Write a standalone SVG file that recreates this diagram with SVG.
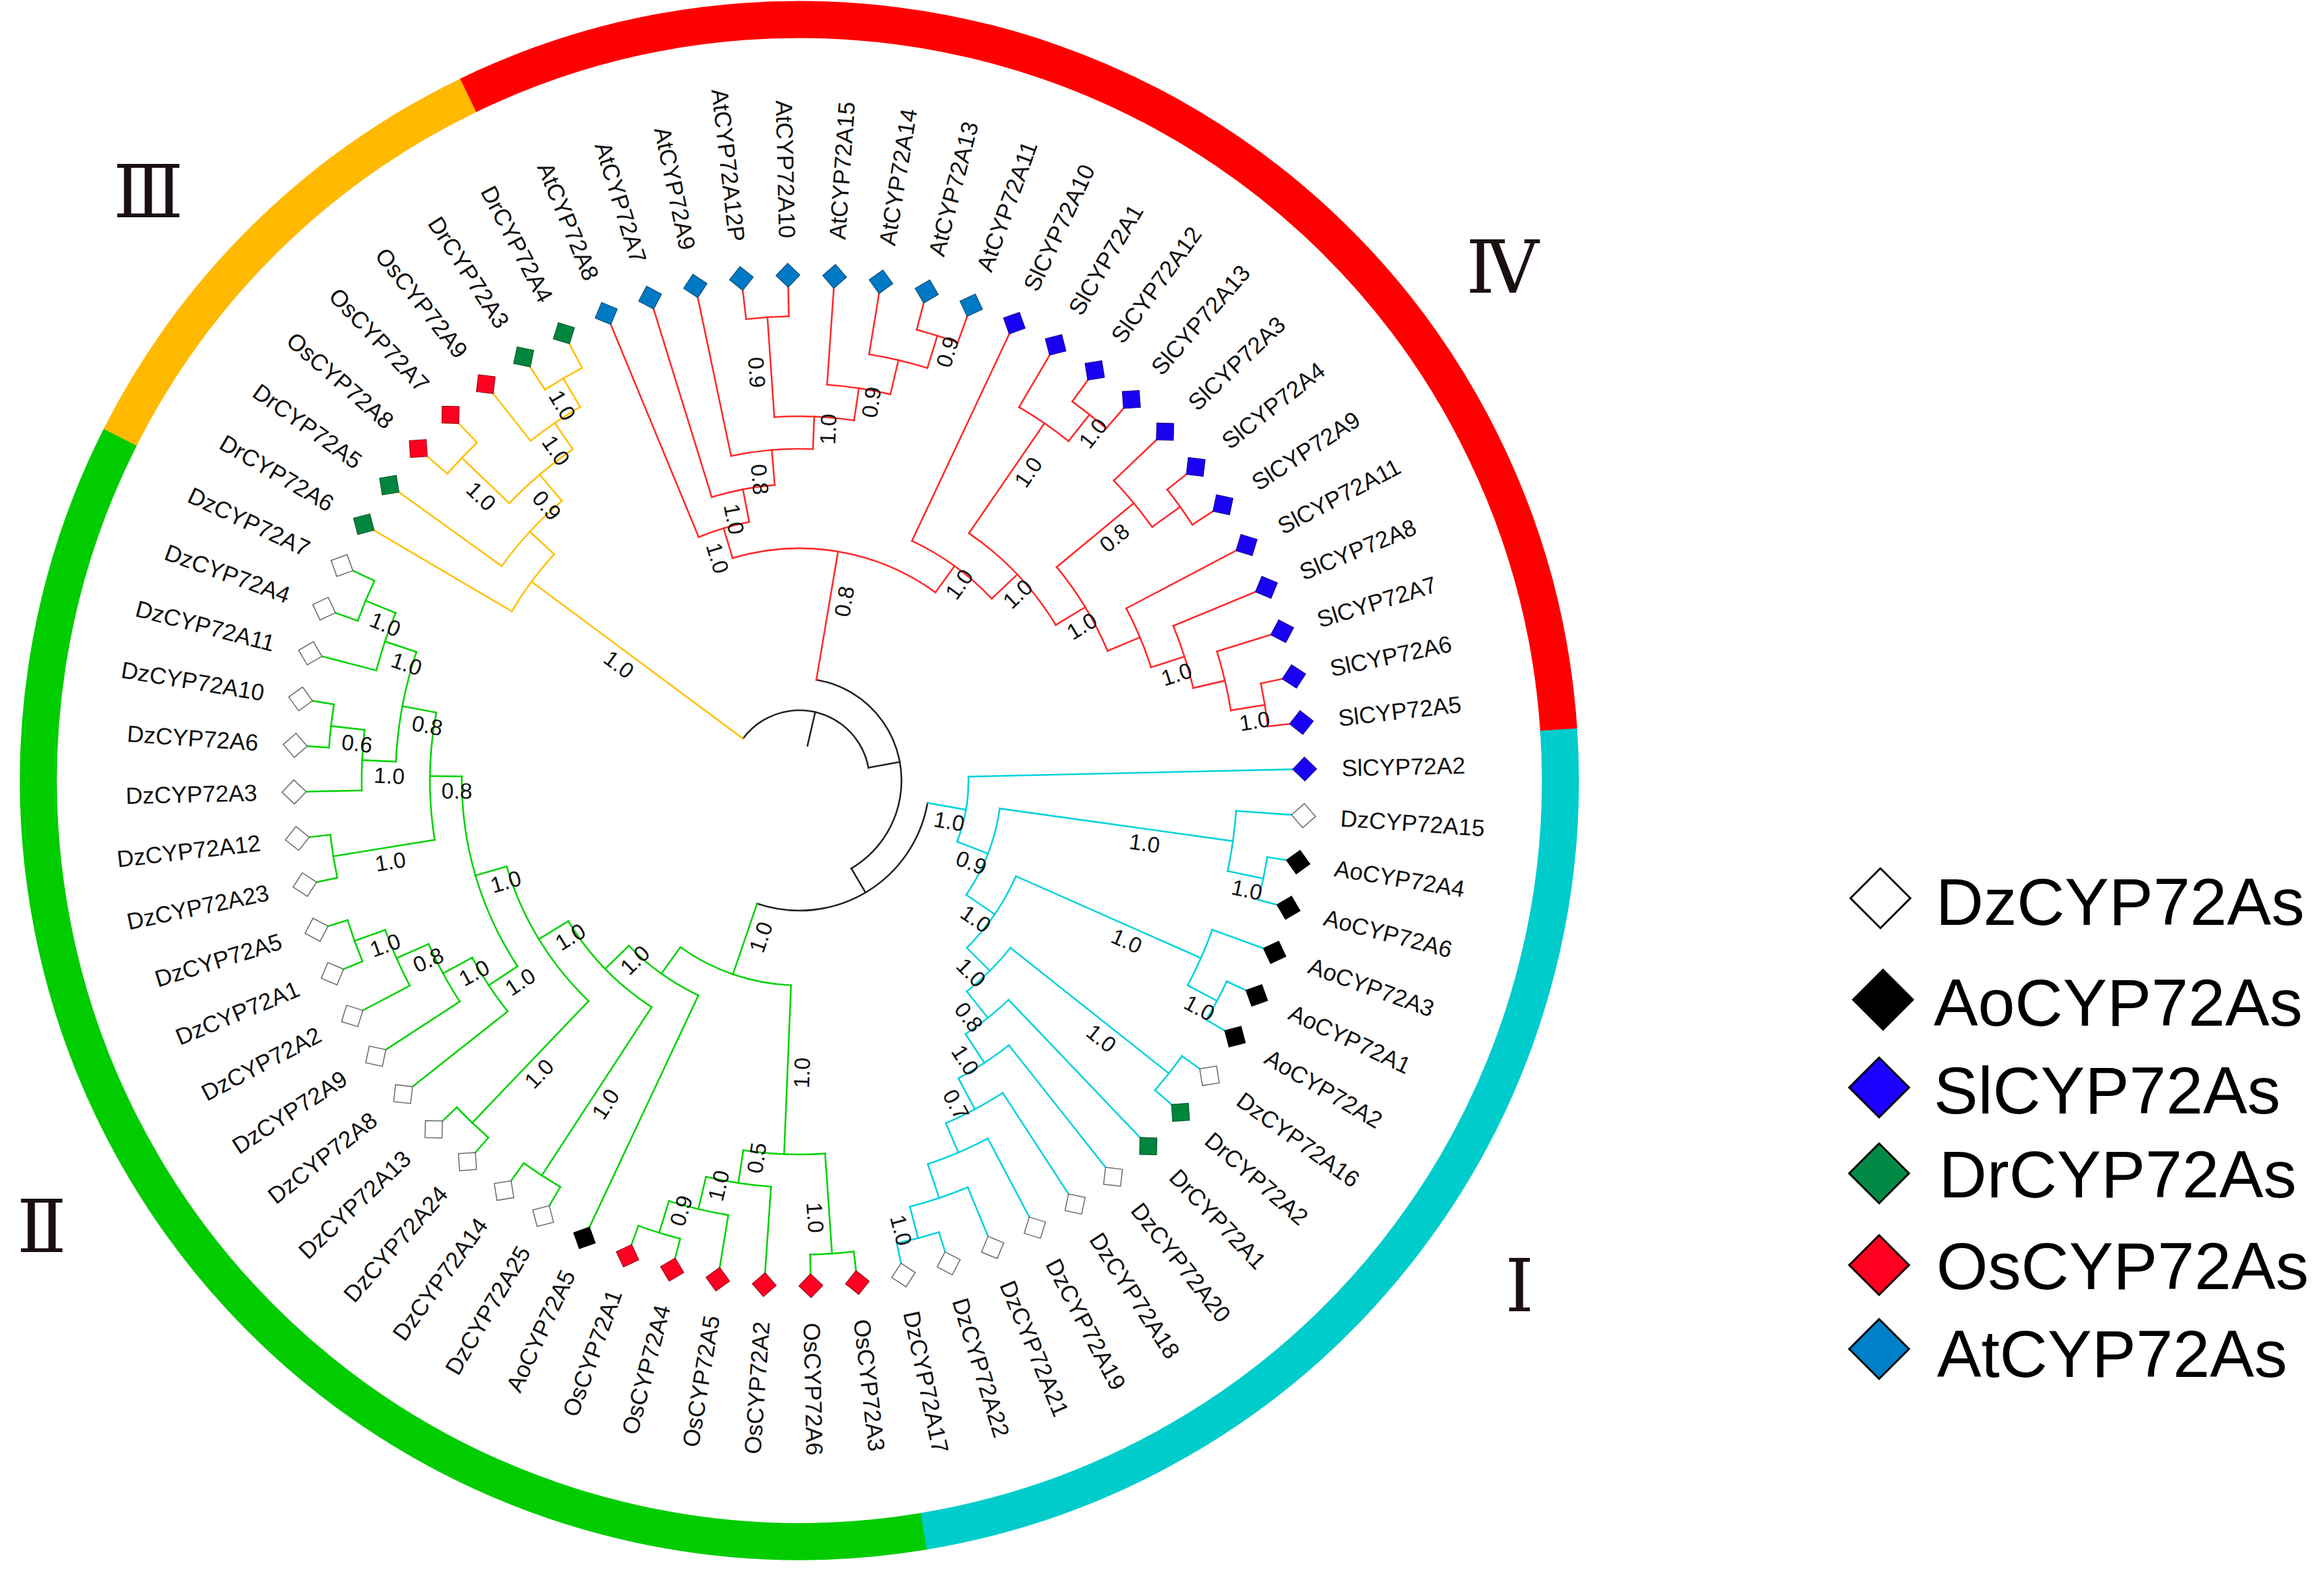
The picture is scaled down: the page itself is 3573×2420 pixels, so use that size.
<svg xmlns="http://www.w3.org/2000/svg" width="3573" height="2420" viewBox="0 0 3573 2420">
<style>
.lf{font-family:"Liberation Sans",Arial,sans-serif;font-size:36px;fill:#111;dominant-baseline:central}
.L{text-anchor:start}
.R{text-anchor:end}
.bs text{font-family:"Liberation Sans",Arial,sans-serif;font-size:34px;fill:#111;text-anchor:middle}
.tree line,.tree circle{fill:none;stroke-width:2.6;stroke-linecap:square}
.k{stroke:#222}
.c{stroke:#00d2dc}
.g{stroke:#00d200}
.o{stroke:#ffc000}
.r{stroke:#ff2a2a}
.dz{fill:#fff;stroke:#666;stroke-width:1.5}
.ao{fill:#000;stroke:#000;stroke-width:1}
.sl{fill:#1a00f0;stroke:#10008a;stroke-width:1}
.dr{fill:#00853e;stroke:#004d24;stroke-width:1}
.os{fill:#ff0022;stroke:#8a0012;stroke-width:1}
.at{fill:#0079c4;stroke:#003f66;stroke-width:1}
.leg text{font-family:"Liberation Sans",Arial,sans-serif;font-size:102px;fill:#000}
.leg path{stroke:#000;stroke-width:3}
.num{font-family:"Liberation Serif","DejaVu Serif",serif;font-size:112px;fill:#1a1010;text-anchor:middle;dominant-baseline:central}
</style>
<defs>
<path id="dm" d="M758.5,0L777,-18.5L795.5,0L777,18.5Z"/>
</defs>
<rect width="3573" height="2420" fill="#fff"/>
<g id="ring" fill="none" stroke-width="57" transform="translate(1229,1200)">
<circle r="1170" stroke="#00cccc" stroke-dasharray="1727 8000" transform="rotate(-3.9)"/>
<circle r="1170" stroke="#00cc00" stroke-dasharray="2578 8000" transform="rotate(80.6)"/>
<circle r="1170" stroke="#ffb900" stroke-dasharray="765 8000" transform="rotate(206.8)"/>
<circle r="1170" stroke="#ff0000" stroke-dasharray="2286 8000" transform="rotate(244.2)"/>
</g>
<g transform="translate(1229,1200)">
<g id="connectors" class="tree">
<g class="k">
<circle r="108" stroke-dasharray="250.55 9999" transform="rotate(216.59)"/>
<circle r="157" stroke-dasharray="383.24 9999" transform="rotate(279.58)"/>
<circle r="200" stroke-dasharray="345.54 9999" transform="rotate(9.945)"/>
<line x1="55" x2="108" transform="rotate(283.05)"/>
<line x1="108" x2="157" transform="rotate(349.51)"/>
<line x1="157" x2="200" transform="rotate(59.44)"/>
</g>
<g class="c">
<circle r="260" stroke-dasharray="102.06 9999" transform="rotate(-1.3)"/>
<circle r="311" stroke-dasharray="143.60 9999" transform="rotate(7.96)"/>
<circle r="673" stroke-dasharray="93.32 9999" transform="rotate(3.99)"/>
<circle r="729" stroke-dasharray="67.31 9999" transform="rotate(9.29)"/>
<circle r="364" stroke-dasharray="134.24 9999" transform="rotate(23.85)"/>
<circle r="675" stroke-dasharray="93.48 9999" transform="rotate(19.88)"/>
<circle r="726" stroke-dasharray="67.03 9999" transform="rotate(25.17)"/>
<circle r="414" stroke-dasharray="95.05 9999" transform="rotate(38.405)"/>
<circle r="725" stroke-dasharray="66.94 9999" transform="rotate(35.76)"/>
<circle r="466" stroke-dasharray="84.75 9999" transform="rotate(46.35)"/>
<circle r="519" stroke-dasharray="92.94 9999" transform="rotate(51.64)"/>
<circle r="573" stroke-dasharray="99.21 9999" transform="rotate(56.94)"/>
<circle r="622" stroke-dasharray="100.53 9999" transform="rotate(62.23)"/>
<circle r="677" stroke-dasharray="93.88 9999" transform="rotate(67.52)"/>
<circle r="727" stroke-dasharray="67.12 9999" transform="rotate(72.82)"/>
<line x1="200" x2="260" transform="rotate(9.945)"/>
<line x1="260" x2="777" transform="rotate(-1.3)"/>
<line x1="260" x2="311" transform="rotate(21.19)"/>
<line x1="311" x2="673" transform="rotate(7.96)"/>
<line x1="673" x2="777" transform="rotate(3.99)"/>
<line x1="673" x2="729" transform="rotate(11.935)"/>
<line x1="729" x2="777" transform="rotate(9.29)"/>
<line x1="729" x2="777" transform="rotate(14.58)"/>
<line x1="311" x2="364" transform="rotate(34.415)"/>
<line x1="364" x2="675" transform="rotate(23.85)"/>
<line x1="675" x2="777" transform="rotate(19.88)"/>
<line x1="675" x2="726" transform="rotate(27.815)"/>
<line x1="726" x2="777" transform="rotate(25.17)"/>
<line x1="726" x2="777" transform="rotate(30.46)"/>
<line x1="364" x2="414" transform="rotate(44.98)"/>
<line x1="414" x2="725" transform="rotate(38.405)"/>
<line x1="725" x2="777" transform="rotate(35.76)"/>
<line x1="725" x2="777" transform="rotate(41.05)"/>
<line x1="414" x2="466" transform="rotate(51.56)"/>
<line x1="466" x2="777" transform="rotate(46.35)"/>
<line x1="466" x2="519" transform="rotate(56.77)"/>
<line x1="519" x2="777" transform="rotate(51.64)"/>
<line x1="519" x2="573" transform="rotate(61.90)"/>
<line x1="573" x2="777" transform="rotate(56.94)"/>
<line x1="573" x2="622" transform="rotate(66.86)"/>
<line x1="622" x2="777" transform="rotate(62.23)"/>
<line x1="622" x2="677" transform="rotate(71.49)"/>
<line x1="677" x2="777" transform="rotate(67.52)"/>
<line x1="677" x2="727" transform="rotate(75.465)"/>
<line x1="727" x2="777" transform="rotate(72.82)"/>
<line x1="727" x2="777" transform="rotate(78.11)"/>
</g>
<g class="g">
<circle r="315" stroke-dasharray="182.47 9999" transform="rotate(92.34)"/>
<circle r="575" stroke-dasharray="126.15 9999" transform="rotate(86.055)"/>
<circle r="729" stroke-dasharray="67.31 9999" transform="rotate(83.41)"/>
<circle r="626" stroke-dasharray="101.28 9999" transform="rotate(93.99)"/>
<circle r="677" stroke-dasharray="93.82 9999" transform="rotate(99.29)"/>
<circle r="728" stroke-dasharray="67.34 9999" transform="rotate(104.58)"/>
<circle r="365" stroke-dasharray="131.99 9999" transform="rotate(115.17)"/>
<circle r="416" stroke-dasharray="185.58 9999" transform="rotate(123.11)"/>
<circle r="725" stroke-dasharray="67.06 9999" transform="rotate(120.46)"/>
<circle r="469" stroke-dasharray="245.12 9999" transform="rotate(133.70)"/>
<circle r="728" stroke-dasharray="67.34 9999" transform="rotate(131.05)"/>
<circle r="519" stroke-dasharray="308.71 9999" transform="rotate(146.605)"/>
<circle r="572" stroke-dasharray="99.13 9999" transform="rotate(141.64)"/>
<circle r="623" stroke-dasharray="100.69 9999" transform="rotate(146.94)"/>
<circle r="677" stroke-dasharray="93.82 9999" transform="rotate(152.23)"/>
<circle r="727" stroke-dasharray="67.25 9999" transform="rotate(157.52)"/>
<circle r="568" stroke-dasharray="196.78 9999" transform="rotate(170.76)"/>
<circle r="726" stroke-dasharray="67.16 9999" transform="rotate(168.11)"/>
<circle r="621" stroke-dasharray="172.11 9999" transform="rotate(182.67)"/>
<circle r="673" stroke-dasharray="93.26 9999" transform="rotate(178.70)"/>
<circle r="725" stroke-dasharray="67.06 9999" transform="rotate(183.99)"/>
<circle r="672" stroke-dasharray="93.18 9999" transform="rotate(194.58)"/>
<circle r="722" stroke-dasharray="66.66 9999" transform="rotate(199.88)"/>
<line x1="200" x2="315" transform="rotate(108.935)"/>
<line x1="315" x2="575" transform="rotate(92.34)"/>
<line x1="575" x2="729" transform="rotate(86.055)"/>
<line x1="729" x2="777" transform="rotate(83.41)"/>
<line x1="729" x2="777" transform="rotate(88.70)"/>
<line x1="575" x2="626" transform="rotate(98.625)"/>
<line x1="626" x2="777" transform="rotate(93.99)"/>
<line x1="626" x2="677" transform="rotate(103.26)"/>
<line x1="677" x2="777" transform="rotate(99.29)"/>
<line x1="677" x2="728" transform="rotate(107.23)"/>
<line x1="728" x2="777" transform="rotate(104.58)"/>
<line x1="728" x2="777" transform="rotate(109.88)"/>
<line x1="315" x2="365" transform="rotate(125.53)"/>
<line x1="365" x2="777" transform="rotate(115.17)"/>
<line x1="365" x2="416" transform="rotate(135.89)"/>
<line x1="416" x2="725" transform="rotate(123.11)"/>
<line x1="725" x2="777" transform="rotate(120.46)"/>
<line x1="725" x2="777" transform="rotate(125.76)"/>
<line x1="416" x2="469" transform="rotate(148.67)"/>
<line x1="469" x2="728" transform="rotate(133.70)"/>
<line x1="728" x2="777" transform="rotate(131.05)"/>
<line x1="728" x2="777" transform="rotate(136.35)"/>
<line x1="469" x2="519" transform="rotate(163.645)"/>
<line x1="519" x2="572" transform="rotate(146.605)"/>
<line x1="572" x2="777" transform="rotate(141.64)"/>
<line x1="572" x2="623" transform="rotate(151.57)"/>
<line x1="623" x2="777" transform="rotate(146.94)"/>
<line x1="623" x2="677" transform="rotate(156.20)"/>
<line x1="677" x2="777" transform="rotate(152.23)"/>
<line x1="677" x2="727" transform="rotate(160.17)"/>
<line x1="727" x2="777" transform="rotate(157.52)"/>
<line x1="727" x2="777" transform="rotate(162.82)"/>
<line x1="519" x2="568" transform="rotate(180.685)"/>
<line x1="568" x2="726" transform="rotate(170.76)"/>
<line x1="726" x2="777" transform="rotate(168.11)"/>
<line x1="726" x2="777" transform="rotate(173.41)"/>
<line x1="568" x2="621" transform="rotate(190.61)"/>
<line x1="621" x2="673" transform="rotate(182.67)"/>
<line x1="673" x2="777" transform="rotate(178.70)"/>
<line x1="673" x2="725" transform="rotate(186.64)"/>
<line x1="725" x2="777" transform="rotate(183.99)"/>
<line x1="725" x2="777" transform="rotate(189.29)"/>
<line x1="621" x2="672" transform="rotate(198.55)"/>
<line x1="672" x2="777" transform="rotate(194.58)"/>
<line x1="672" x2="722" transform="rotate(202.525)"/>
<line x1="722" x2="777" transform="rotate(199.88)"/>
<line x1="722" x2="777" transform="rotate(205.17)"/>
</g>
<g class="o">
<circle r="513" stroke-dasharray="109.59 9999" transform="rotate(210.47)"/>
<circle r="564" stroke-dasharray="136.83 9999" transform="rotate(215.76)"/>
<circle r="617" stroke-dasharray="128.31 9999" transform="rotate(223.705)"/>
<circle r="718" stroke-dasharray="66.29 9999" transform="rotate(221.06)"/>
<circle r="666" stroke-dasharray="92.24 9999" transform="rotate(231.65)"/>
<circle r="717" stroke-dasharray="66.20 9999" transform="rotate(236.94)"/>
<line x1="108" x2="513" transform="rotate(216.59)"/>
<line x1="513" x2="777" transform="rotate(210.47)"/>
<line x1="513" x2="564" transform="rotate(222.71)"/>
<line x1="564" x2="777" transform="rotate(215.76)"/>
<line x1="564" x2="617" transform="rotate(229.66)"/>
<line x1="617" x2="718" transform="rotate(223.705)"/>
<line x1="718" x2="777" transform="rotate(221.06)"/>
<line x1="718" x2="777" transform="rotate(226.35)"/>
<line x1="617" x2="666" transform="rotate(235.62)"/>
<line x1="666" x2="777" transform="rotate(231.65)"/>
<line x1="666" x2="717" transform="rotate(239.585)"/>
<line x1="717" x2="777" transform="rotate(236.94)"/>
<line x1="717" x2="777" transform="rotate(242.23)"/>
</g>
<g class="r">
<circle r="357" stroke-dasharray="327.77 9999" transform="rotate(253.28)"/>
<circle r="405" stroke-dasharray="81.25 9999" transform="rotate(247.53)"/>
<circle r="456" stroke-dasharray="98.77 9999" transform="rotate(252.82)"/>
<circle r="510" stroke-dasharray="126.57 9999" transform="rotate(258.12)"/>
<circle r="560" stroke-dasharray="122.91 9999" transform="rotate(266.055)"/>
<circle r="714" stroke-dasharray="65.92 9999" transform="rotate(263.41)"/>
<circle r="610" stroke-dasharray="98.59 9999" transform="rotate(274.00)"/>
<circle r="664" stroke-dasharray="92.07 9999" transform="rotate(279.29)"/>
<circle r="716" stroke-dasharray="66.11 9999" transform="rotate(284.59)"/>
<circle r="407" stroke-dasharray="152.23 9999" transform="rotate(295.17)"/>
<circle r="461" stroke-dasharray="195.68 9999" transform="rotate(304.44)"/>
<circle r="666" stroke-dasharray="92.29 9999" transform="rotate(300.47)"/>
<circle r="718" stroke-dasharray="66.42 9999" transform="rotate(305.76)"/>
<circle r="514" stroke-dasharray="151.39 9999" transform="rotate(320.32)"/>
<circle r="668" stroke-dasharray="92.63 9999" transform="rotate(316.35)"/>
<circle r="721" stroke-dasharray="66.57 9999" transform="rotate(321.65)"/>
<circle r="568" stroke-dasharray="98.44 9999" transform="rotate(332.23)"/>
<circle r="622" stroke-dasharray="100.53 9999" transform="rotate(337.53)"/>
<circle r="672" stroke-dasharray="93.18 9999" transform="rotate(342.82)"/>
<circle r="725" stroke-dasharray="66.94 9999" transform="rotate(348.12)"/>
<line x1="157" x2="357" transform="rotate(279.58)"/>
<line x1="357" x2="405" transform="rotate(253.28)"/>
<line x1="405" x2="777" transform="rotate(247.53)"/>
<line x1="405" x2="456" transform="rotate(259.025)"/>
<line x1="456" x2="777" transform="rotate(252.82)"/>
<line x1="456" x2="510" transform="rotate(265.23)"/>
<line x1="510" x2="777" transform="rotate(258.12)"/>
<line x1="510" x2="560" transform="rotate(272.34)"/>
<line x1="560" x2="714" transform="rotate(266.055)"/>
<line x1="714" x2="777" transform="rotate(263.41)"/>
<line x1="714" x2="777" transform="rotate(268.70)"/>
<line x1="560" x2="610" transform="rotate(278.63)"/>
<line x1="610" x2="777" transform="rotate(274.00)"/>
<line x1="610" x2="664" transform="rotate(283.26)"/>
<line x1="664" x2="777" transform="rotate(279.29)"/>
<line x1="664" x2="716" transform="rotate(287.235)"/>
<line x1="716" x2="777" transform="rotate(284.59)"/>
<line x1="716" x2="777" transform="rotate(289.88)"/>
<line x1="357" x2="407" transform="rotate(305.885)"/>
<line x1="407" x2="777" transform="rotate(295.17)"/>
<line x1="407" x2="461" transform="rotate(316.60)"/>
<line x1="461" x2="666" transform="rotate(304.44)"/>
<line x1="666" x2="777" transform="rotate(300.47)"/>
<line x1="666" x2="718" transform="rotate(308.41)"/>
<line x1="718" x2="777" transform="rotate(305.76)"/>
<line x1="718" x2="777" transform="rotate(311.06)"/>
<line x1="461" x2="514" transform="rotate(328.76)"/>
<line x1="514" x2="668" transform="rotate(320.32)"/>
<line x1="668" x2="777" transform="rotate(316.35)"/>
<line x1="668" x2="721" transform="rotate(324.295)"/>
<line x1="721" x2="777" transform="rotate(321.65)"/>
<line x1="721" x2="777" transform="rotate(326.94)"/>
<line x1="514" x2="568" transform="rotate(337.195)"/>
<line x1="568" x2="777" transform="rotate(332.23)"/>
<line x1="568" x2="622" transform="rotate(342.16)"/>
<line x1="622" x2="777" transform="rotate(337.53)"/>
<line x1="622" x2="672" transform="rotate(346.79)"/>
<line x1="672" x2="777" transform="rotate(342.82)"/>
<line x1="672" x2="725" transform="rotate(350.765)"/>
<line x1="725" x2="777" transform="rotate(348.12)"/>
<line x1="725" x2="777" transform="rotate(353.41)"/>
</g>
</g>
<g id="support" class="bs">
<text transform="rotate(9.945) translate(237.8,0)" y="34">1.0</text>
<text transform="rotate(21.19) translate(292,0)" y="34">0.9</text>
<text transform="rotate(34.415) translate(344,0)" y="34">1.0</text>
<text transform="rotate(44.98) translate(395.5,0)" y="34">1.0</text>
<text transform="rotate(51.56) translate(446.8,0)" y="34">0.8</text>
<text transform="rotate(56.77) translate(499.4,0)" y="34">1.0</text>
<text transform="rotate(61.90) translate(553,0)" y="34">0.7</text>
<text transform="rotate(75.465) translate(708.5,0)" y="34">1.0</text>
<text transform="rotate(7.96) translate(539,0)" y="34">1.0</text>
<text transform="rotate(23.85) translate(560,0)" y="34">1.0</text>
<text transform="rotate(38.405) translate(610,0)" y="34">1.0</text>
<text transform="rotate(11.935) translate(708,0)" y="34">1.0</text>
<text transform="rotate(27.815) translate(707,0)" y="34">1.0</text>
<text transform="rotate(279.58) translate(283,0)" y="34">0.8</text>
<text transform="rotate(253.28) translate(363.8,0) rotate(180)" y="34">1.0</text>
<text transform="rotate(259.025) translate(413.6,0) rotate(180)" y="34">1.0</text>
<text transform="rotate(265.23) translate(466.4,0) rotate(180)" y="34">0.8</text>
<text transform="rotate(272.34) translate(541.5,0)" y="34">1.0</text>
<text transform="rotate(266.055) translate(630.4,0) rotate(180)" y="34">0.9</text>
<text transform="rotate(278.63) translate(591.5,0)" y="34">0.9</text>
<text transform="rotate(287.235) translate(696.8,0)" y="34">0.9</text>
<text transform="rotate(305.885) translate(388.5,0)" y="34">1.0</text>
<text transform="rotate(316.60) translate(441,0)" y="34">1.0</text>
<text transform="rotate(304.44) translate(590,0)" y="34">1.0</text>
<text transform="rotate(308.41) translate(698.8,0)" y="34">1.0</text>
<text transform="rotate(328.76) translate(494.4,0)" y="34">1.0</text>
<text transform="rotate(320.32) translate(611,0)" y="34">0.8</text>
<text transform="rotate(342.16) translate(602,0)" y="34">1.0</text>
<text transform="rotate(350.765) translate(705.4,0)" y="34">1.0</text>
<text transform="rotate(216.59) translate(329,0) rotate(180)" y="34">1.0</text>
<text transform="rotate(229.66) translate(573.8,0) rotate(180)" y="34">0.9</text>
<text transform="rotate(223.705) translate(655.6,0) rotate(180)" y="34">1.0</text>
<text transform="rotate(235.62) translate(630,0) rotate(180)" y="34">1.0</text>
<text transform="rotate(239.585) translate(682,0) rotate(180)" y="34">1.0</text>
<text transform="rotate(108.935) translate(247,0) rotate(180)" y="34">1.0</text>
<text transform="rotate(92.34) translate(449,0) rotate(180)" y="34">1.0</text>
<text transform="rotate(86.055) translate(672,0)" y="34">1.0</text>
<text transform="rotate(98.625) translate(583.6,0) rotate(180)" y="34">0.5</text>
<text transform="rotate(103.26) translate(634.6,0) rotate(180)" y="34">1.0</text>
<text transform="rotate(107.23) translate(685.6,0) rotate(180)" y="34">0.9</text>
<text transform="rotate(135.89) translate(373.6,0) rotate(180)" y="34">1.0</text>
<text transform="rotate(123.11) translate(579.4,0) rotate(180)" y="34">1.0</text>
<text transform="rotate(148.67) translate(425.8,0) rotate(180)" y="34">1.0</text>
<text transform="rotate(133.70) translate(602.4,0) rotate(180)" y="34">1.0</text>
<text transform="rotate(163.645) translate(477,0) rotate(180)" y="34">1.0</text>
<text transform="rotate(146.605) translate(528.8,0) rotate(180)" y="34">1.0</text>
<text transform="rotate(151.57) translate(580.6,0) rotate(180)" y="34">1.0</text>
<text transform="rotate(156.20) translate(633.4,0) rotate(180)" y="34">0.8</text>
<text transform="rotate(160.17) translate(685,0) rotate(180)" y="34">1.0</text>
<text transform="rotate(170.76) translate(640.8,0) rotate(180)" y="34">1.0</text>
<text transform="rotate(180.685) translate(526.4,0) rotate(180)" y="34">0.8</text>
<text transform="rotate(190.61) translate(577.8,0) rotate(180)" y="34">0.8</text>
<text transform="rotate(182.67) translate(630.2,0) rotate(180)" y="34">1.0</text>
<text transform="rotate(186.64) translate(682.2,0) rotate(180)" y="34">0.6</text>
<text transform="rotate(198.55) translate(629.6,0) rotate(180)" y="34">1.0</text>
<text transform="rotate(202.525) translate(680,0) rotate(180)" y="34">1.0</text>
</g>
<g id="leaves">
<g id="SlCYP72A2" transform="rotate(-1.3)"><use href="#dm" class="sl"/><text class="lf L" x="834">SlCYP72A2</text></g>
<g id="DzCYP72A15" transform="rotate(3.99)"><use href="#dm" class="dz"/><text class="lf L" x="834">DzCYP72A15</text></g>
<g id="AoCYP72A4" transform="rotate(9.29)"><use href="#dm" class="ao"/><text class="lf L" x="834">AoCYP72A4</text></g>
<g id="AoCYP72A6" transform="rotate(14.58)"><use href="#dm" class="ao"/><text class="lf L" x="834">AoCYP72A6</text></g>
<g id="AoCYP72A3" transform="rotate(19.88)"><use href="#dm" class="ao"/><text class="lf L" x="834">AoCYP72A3</text></g>
<g id="AoCYP72A1" transform="rotate(25.17)"><use href="#dm" class="ao"/><text class="lf L" x="834">AoCYP72A1</text></g>
<g id="AoCYP72A2" transform="rotate(30.46)"><use href="#dm" class="ao"/><text class="lf L" x="834">AoCYP72A2</text></g>
<g id="DzCYP72A16" transform="rotate(35.76)"><use href="#dm" class="dz"/><text class="lf L" x="834">DzCYP72A16</text></g>
<g id="DrCYP72A2" transform="rotate(41.05)"><use href="#dm" class="dr"/><text class="lf L" x="834">DrCYP72A2</text></g>
<g id="DrCYP72A1" transform="rotate(46.35)"><use href="#dm" class="dr"/><text class="lf L" x="834">DrCYP72A1</text></g>
<g id="DzCYP72A20" transform="rotate(51.64)"><use href="#dm" class="dz"/><text class="lf L" x="834">DzCYP72A20</text></g>
<g id="DzCYP72A18" transform="rotate(56.94)"><use href="#dm" class="dz"/><text class="lf L" x="834">DzCYP72A18</text></g>
<g id="DzCYP72A19" transform="rotate(62.23)"><use href="#dm" class="dz"/><text class="lf L" x="834">DzCYP72A19</text></g>
<g id="DzCYP72A21" transform="rotate(67.52)"><use href="#dm" class="dz"/><text class="lf L" x="834">DzCYP72A21</text></g>
<g id="DzCYP72A22" transform="rotate(72.82)"><use href="#dm" class="dz"/><text class="lf L" x="834">DzCYP72A22</text></g>
<g id="DzCYP72A17" transform="rotate(78.11)"><use href="#dm" class="dz"/><text class="lf L" x="834">DzCYP72A17</text></g>
<g id="OsCYP72A3" transform="rotate(83.41)"><use href="#dm" class="os"/><text class="lf L" x="834">OsCYP72A3</text></g>
<g id="OsCYP72A6" transform="rotate(88.70)"><use href="#dm" class="os"/><text class="lf L" x="834">OsCYP72A6</text></g>
<g id="OsCYP72A2" transform="rotate(93.99)"><use href="#dm" class="os"/><text class="lf R" x="-834" transform="rotate(180)">OsCYP72A2</text></g>
<g id="OsCYP72A5" transform="rotate(99.29)"><use href="#dm" class="os"/><text class="lf R" x="-834" transform="rotate(180)">OsCYP72A5</text></g>
<g id="OsCYP72A4" transform="rotate(104.58)"><use href="#dm" class="os"/><text class="lf R" x="-834" transform="rotate(180)">OsCYP72A4</text></g>
<g id="OsCYP72A1" transform="rotate(109.88)"><use href="#dm" class="os"/><text class="lf R" x="-834" transform="rotate(180)">OsCYP72A1</text></g>
<g id="AoCYP72A5" transform="rotate(115.17)"><use href="#dm" class="ao"/><text class="lf R" x="-834" transform="rotate(180)">AoCYP72A5</text></g>
<g id="DzCYP72A25" transform="rotate(120.46)"><use href="#dm" class="dz"/><text class="lf R" x="-834" transform="rotate(180)">DzCYP72A25</text></g>
<g id="DzCYP72A14" transform="rotate(125.76)"><use href="#dm" class="dz"/><text class="lf R" x="-834" transform="rotate(180)">DzCYP72A14</text></g>
<g id="DzCYP72A24" transform="rotate(131.05)"><use href="#dm" class="dz"/><text class="lf R" x="-834" transform="rotate(180)">DzCYP72A24</text></g>
<g id="DzCYP72A13" transform="rotate(136.35)"><use href="#dm" class="dz"/><text class="lf R" x="-834" transform="rotate(180)">DzCYP72A13</text></g>
<g id="DzCYP72A8" transform="rotate(141.64)"><use href="#dm" class="dz"/><text class="lf R" x="-834" transform="rotate(180)">DzCYP72A8</text></g>
<g id="DzCYP72A9" transform="rotate(146.94)"><use href="#dm" class="dz"/><text class="lf R" x="-834" transform="rotate(180)">DzCYP72A9</text></g>
<g id="DzCYP72A2" transform="rotate(152.23)"><use href="#dm" class="dz"/><text class="lf R" x="-834" transform="rotate(180)">DzCYP72A2</text></g>
<g id="DzCYP72A1" transform="rotate(157.52)"><use href="#dm" class="dz"/><text class="lf R" x="-834" transform="rotate(180)">DzCYP72A1</text></g>
<g id="DzCYP72A5" transform="rotate(162.82)"><use href="#dm" class="dz"/><text class="lf R" x="-834" transform="rotate(180)">DzCYP72A5</text></g>
<g id="DzCYP72A23" transform="rotate(168.11)"><use href="#dm" class="dz"/><text class="lf R" x="-834" transform="rotate(180)">DzCYP72A23</text></g>
<g id="DzCYP72A12" transform="rotate(173.41)"><use href="#dm" class="dz"/><text class="lf R" x="-834" transform="rotate(180)">DzCYP72A12</text></g>
<g id="DzCYP72A3" transform="rotate(178.70)"><use href="#dm" class="dz"/><text class="lf R" x="-834" transform="rotate(180)">DzCYP72A3</text></g>
<g id="DzCYP72A6" transform="rotate(183.99)"><use href="#dm" class="dz"/><text class="lf R" x="-834" transform="rotate(180)">DzCYP72A6</text></g>
<g id="DzCYP72A10" transform="rotate(189.29)"><use href="#dm" class="dz"/><text class="lf R" x="-834" transform="rotate(180)">DzCYP72A10</text></g>
<g id="DzCYP72A11" transform="rotate(194.58)"><use href="#dm" class="dz"/><text class="lf R" x="-834" transform="rotate(180)">DzCYP72A11</text></g>
<g id="DzCYP72A4" transform="rotate(199.88)"><use href="#dm" class="dz"/><text class="lf R" x="-834" transform="rotate(180)">DzCYP72A4</text></g>
<g id="DzCYP72A7" transform="rotate(205.17)"><use href="#dm" class="dz"/><text class="lf R" x="-834" transform="rotate(180)">DzCYP72A7</text></g>
<g id="DrCYP72A6" transform="rotate(210.47)"><use href="#dm" class="dr"/><text class="lf R" x="-834" transform="rotate(180)">DrCYP72A6</text></g>
<g id="DrCYP72A5" transform="rotate(215.76)"><use href="#dm" class="dr"/><text class="lf R" x="-834" transform="rotate(180)">DrCYP72A5</text></g>
<g id="OsCYP72A8" transform="rotate(221.06)"><use href="#dm" class="os"/><text class="lf R" x="-834" transform="rotate(180)">OsCYP72A8</text></g>
<g id="OsCYP72A7" transform="rotate(226.35)"><use href="#dm" class="os"/><text class="lf R" x="-834" transform="rotate(180)">OsCYP72A7</text></g>
<g id="OsCYP72A9" transform="rotate(231.65)"><use href="#dm" class="os"/><text class="lf R" x="-834" transform="rotate(180)">OsCYP72A9</text></g>
<g id="DrCYP72A3" transform="rotate(236.94)"><use href="#dm" class="dr"/><text class="lf R" x="-834" transform="rotate(180)">DrCYP72A3</text></g>
<g id="DrCYP72A4" transform="rotate(242.23)"><use href="#dm" class="dr"/><text class="lf R" x="-834" transform="rotate(180)">DrCYP72A4</text></g>
<g id="AtCYP72A8" transform="rotate(247.53)"><use href="#dm" class="at"/><text class="lf R" x="-834" transform="rotate(180)">AtCYP72A8</text></g>
<g id="AtCYP72A7" transform="rotate(252.82)"><use href="#dm" class="at"/><text class="lf R" x="-834" transform="rotate(180)">AtCYP72A7</text></g>
<g id="AtCYP72A9" transform="rotate(258.12)"><use href="#dm" class="at"/><text class="lf R" x="-834" transform="rotate(180)">AtCYP72A9</text></g>
<g id="AtCYP72A12P" transform="rotate(263.41)"><use href="#dm" class="at"/><text class="lf R" x="-834" transform="rotate(180)">AtCYP72A12P</text></g>
<g id="AtCYP72A10" transform="rotate(268.70)"><use href="#dm" class="at"/><text class="lf R" x="-834" transform="rotate(180)">AtCYP72A10</text></g>
<g id="AtCYP72A15" transform="rotate(274.00)"><use href="#dm" class="at"/><text class="lf L" x="834">AtCYP72A15</text></g>
<g id="AtCYP72A14" transform="rotate(279.29)"><use href="#dm" class="at"/><text class="lf L" x="834">AtCYP72A14</text></g>
<g id="AtCYP72A13" transform="rotate(284.59)"><use href="#dm" class="at"/><text class="lf L" x="834">AtCYP72A13</text></g>
<g id="AtCYP72A11" transform="rotate(289.88)"><use href="#dm" class="at"/><text class="lf L" x="834">AtCYP72A11</text></g>
<g id="SlCYP72A10" transform="rotate(295.17)"><use href="#dm" class="sl"/><text class="lf L" x="834">SlCYP72A10</text></g>
<g id="SlCYP72A1" transform="rotate(300.47)"><use href="#dm" class="sl"/><text class="lf L" x="834">SlCYP72A1</text></g>
<g id="SlCYP72A12" transform="rotate(305.76)"><use href="#dm" class="sl"/><text class="lf L" x="834">SlCYP72A12</text></g>
<g id="SlCYP72A13" transform="rotate(311.06)"><use href="#dm" class="sl"/><text class="lf L" x="834">SlCYP72A13</text></g>
<g id="SlCYP72A3" transform="rotate(316.35)"><use href="#dm" class="sl"/><text class="lf L" x="834">SlCYP72A3</text></g>
<g id="SlCYP72A4" transform="rotate(321.65)"><use href="#dm" class="sl"/><text class="lf L" x="834">SlCYP72A4</text></g>
<g id="SlCYP72A9" transform="rotate(326.94)"><use href="#dm" class="sl"/><text class="lf L" x="834">SlCYP72A9</text></g>
<g id="SlCYP72A11" transform="rotate(332.23)"><use href="#dm" class="sl"/><text class="lf L" x="834">SlCYP72A11</text></g>
<g id="SlCYP72A8" transform="rotate(337.53)"><use href="#dm" class="sl"/><text class="lf L" x="834">SlCYP72A8</text></g>
<g id="SlCYP72A7" transform="rotate(342.82)"><use href="#dm" class="sl"/><text class="lf L" x="834">SlCYP72A7</text></g>
<g id="SlCYP72A6" transform="rotate(348.12)"><use href="#dm" class="sl"/><text class="lf L" x="834">SlCYP72A6</text></g>
<g id="SlCYP72A5" transform="rotate(353.41)"><use href="#dm" class="sl"/><text class="lf L" x="834">SlCYP72A5</text></g>
</g>
</g>
<g id="clades">
<text class="num" x="228" y="296">Ⅲ</text>
<text class="num" x="2310" y="412">Ⅳ</text>
<text class="num" x="64" y="1887">Ⅱ</text>
<text class="num" x="2336" y="1978">Ⅰ</text>
</g>
<g id="legend" class="leg">
<g id="leg-dz"><path d="M2845,1381L2891,1335L2937,1381L2891,1427Z" fill="#fff"/><text x="2976" y="1422">DzCYP72As</text></g>
<g id="leg-ao"><path d="M2849,1537L2895,1491L2941,1537L2895,1583Z" fill="#000"/><text x="2973" y="1577">AoCYP72As</text></g>
<g id="leg-sl"><path d="M2843,1672L2889,1626L2935,1672L2889,1718Z" fill="#1b00ff"/><text x="2973" y="1712">SlCYP72As</text></g>
<g id="leg-dr"><path d="M2843,1804L2889,1758L2935,1804L2889,1850Z" fill="#008a45"/><text x="2981" y="1841">DrCYP72As</text></g>
<g id="leg-os"><path d="M2843,1945L2889,1899L2935,1945L2889,1991Z" fill="#ff0020"/><text x="2977" y="1982">OsCYP72As</text></g>
<g id="leg-at"><path d="M2843,2074L2889,2028L2935,2074L2889,2120Z" fill="#0080c8"/><text x="2978" y="2117">AtCYP72As</text></g>
</g>
</svg>
